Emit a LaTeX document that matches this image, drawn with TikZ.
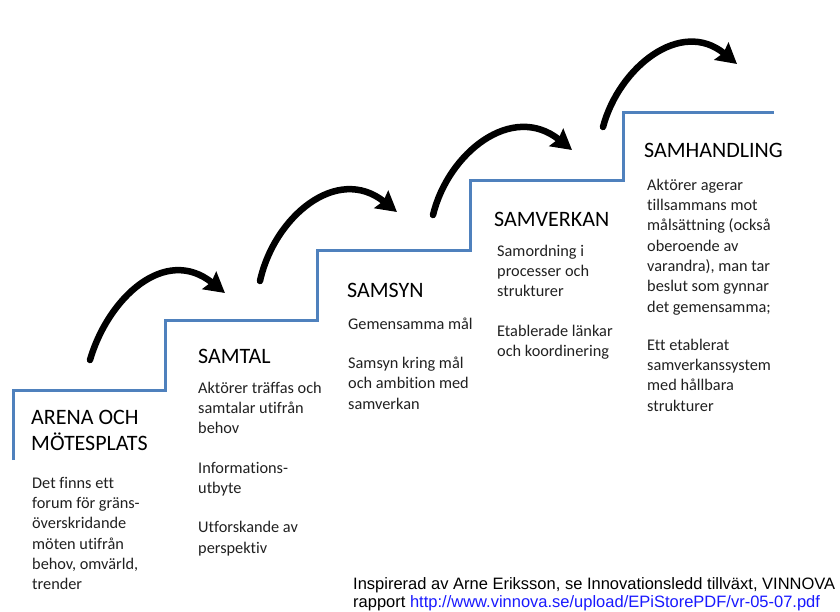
\documentclass[tikz,border=0pt]{standalone}
\usepackage{fontspec}
\setmainfont{Carlito}[Ligatures={NoCommon}]
\newfontfamily\arialf{Liberation Sans}
\usetikzlibrary{arrows.meta}
\definecolor{stairblue}{RGB}{79,129,189}
\definecolor{bodygray}{RGB}{32,32,32}
\definecolor{linkblue}{RGB}{25,25,255}
\begin{document}
\begin{tikzpicture}[x=1pt,y=-1pt,
  stair/.style={draw=stairblue, line width=3pt, line join=miter},
  bigarrow/.style={draw=black, line width=6.5pt, line cap=round,
    -{Stealth[length=20pt,width=22pt,inset=2.5pt]}},
  headtxt/.style={anchor=base west, inner sep=0pt, font=\fontsize{22}{26}\selectfont, text=black},
  headtwo/.style={anchor=north west, inner sep=0pt, align=left, font=\fontsize{22}{26}\selectfont, text=black},
  bodytxt/.style={anchor=north west, inner sep=0pt, align=left, font=\fontsize{16.3}{20.3}\selectfont, text=bodygray},
  foottxt/.style={anchor=north west, inner sep=0pt, align=left, font=\arialf\fontsize{16.5}{18}\selectfont, text=black},
]
\useasboundingbox (0,0) rectangle (840,611);

% staircase
\draw[stair] (13,460) -- (13,390) -- (165,390) -- (165,320) -- (317,320)
  -- (317,250) -- (470,250) -- (470,180) -- (623,180) -- (623,112) -- (774,112);

% arrows
\coordinate (s1) at (90,360);  \coordinate (t1) at (225,293);
\coordinate (s2) at (260,281); \coordinate (t2) at (397,212);
\coordinate (s3) at (433,215); \coordinate (t3) at (572,150);
\coordinate (s4) at (603,127); \coordinate (t4) at (737,64);
\draw[bigarrow] (s1) .. controls +(18,-62) and +(-60,-48) .. (t1);
\draw[bigarrow] (s2) .. controls +(14,-64) and +(-60,-48) .. (t2);
\draw[bigarrow] (s3) .. controls +(15,-62) and +(-60,-48) .. (t3);
\draw[bigarrow] (s4) .. controls +(16,-60) and +(-56,-46) .. (t4);

% texts
\node[headtwo] (h1) at (31,405.8) {\strut ARENA OCH\\MÖTESPLATS};
\node[bodytxt] (b1) at (32,473.8) {\strut Det finns ett\\forum för gräns-\\överskridande\\möten utifrån\\behov, omvärld,\\trender};

\node[headtxt] (h2) at (198,363) {SAMTAL};
\node[bodytxt] (b2) at (198,378.8) {\strut Aktörer träffas och\\samtalar utifrån\\behov\\[19pt]Informations-\\utbyte\\[19pt]Utforskande av\\perspektiv};

\node[headtxt] (h3) at (347,297) {SAMSYN};
\node[bodytxt] (b3) at (348,314.8) {\strut Gemensamma mål\\[19pt]Samsyn kring mål\\och ambition med\\samverkan};

\node[headtxt] (h4) at (494,226) {SAMVERKAN};
\node[bodytxt] (b4) at (497,241.8) {\strut Samordning i\\processer och\\strukturer\\[19pt]Etablerade länkar\\och koordinering};

\node[headtxt] (h5) at (644,157) {SAMHANDLING};
\node[bodytxt] (b5) at (647,175.8) {\strut Aktörer agerar\\tillsammans mot\\målsättning (också\\oberoende av\\varandra), man tar\\beslut som gynnar\\det gemensamma;\\[18pt]Ett etablerat\\samverkanssystem\\med hållbara\\strukturer};

\node[foottxt] (f1) at (353,576.4) {\strut Inspirerad av Arne Eriksson, se Innovationsledd tillväxt, VINNOVA\\rapport \textcolor{linkblue}{http://www.vinnova.se/upload/EPiStorePDF/vr-05-07.pdf}};
\end{tikzpicture}
\end{document}
